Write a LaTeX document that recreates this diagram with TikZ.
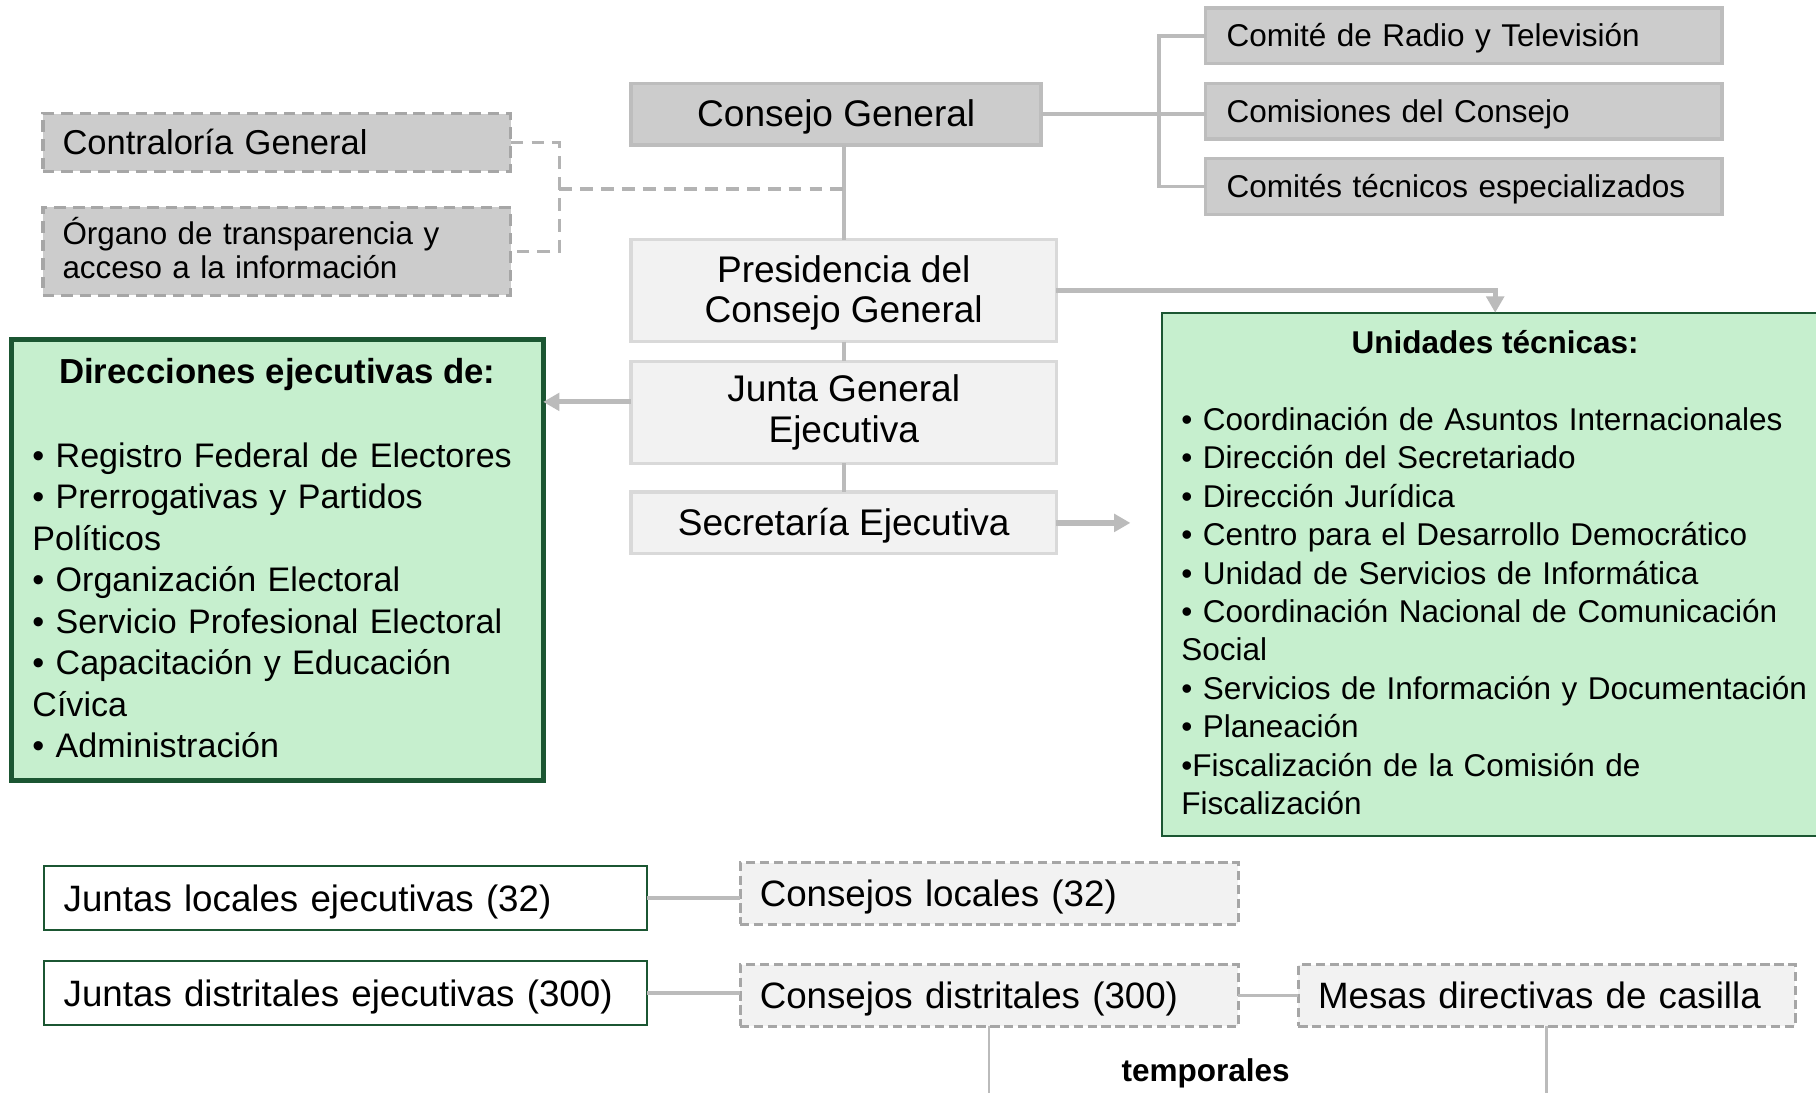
\documentclass[tikz,border=0pt]{standalone}
\usepackage{fontspec}
\setmainfont{Liberation Sans}
\usetikzlibrary{arrows.meta}
\definecolor{gdark}{HTML}{CCCCCC}
\definecolor{gdarkb}{HTML}{BDBDBD}
\definecolor{glight}{HTML}{F2F2F2}
\definecolor{glightb}{HTML}{D9D9D9}
\definecolor{gdash}{HTML}{A6A6A6}
\definecolor{gconn}{HTML}{BBBBBB}
\definecolor{gfill}{HTML}{C6EFCE}
\definecolor{gborder}{HTML}{1B5632}
\newcommand\fbig{\fontsize{32pt}{35pt}\selectfont}
\newcommand\fbot{\fontsize{31.7pt}{35pt}\selectfont}
\newcommand\fmid{\fontsize{29.4pt}{35.86pt}\selectfont}
\newcommand\fmidb{\fontsize{30pt}{35.86pt}\selectfont}
\newcommand\fsm{\fontsize{27.2pt}{33.2pt}\selectfont}
\newcommand\fcon{\fontsize{29.8pt}{30pt}\selectfont}
\newcommand\forg{\fontsize{27.1pt}{30pt}\selectfont}
\begin{document}
\begin{tikzpicture}[x=1pt,y=-1pt,
  every node/.style={inner sep=0pt, outer sep=0pt},
  boxbase/.style={rectangle, anchor=north west},
  darkbox/.style={boxbase, fill=gdark, draw=gdarkb, line width=3pt},
  lightbox/.style={boxbase, fill=glight, draw=glightb, line width=3pt},
  dashbox/.style={boxbase, fill=gdark, draw=gdash, line width=3pt, dash pattern=on 10pt off 6pt},
  dashlight/.style={boxbase, fill=glight, draw=gdash, line width=2.6pt, dash pattern=on 8pt off 4pt},
  greenbox/.style={boxbase, fill=gfill, draw=gborder, line width=4pt},
  greenthin/.style={boxbase, fill=gfill, draw=gborder, line width=1.8pt},
  whitebox/.style={boxbase, fill=white, draw=gborder, line width=1.8pt},
  lefttext/.style={align=left, inner xsep=#1, inner ysep=0pt},
  one32/.style={font=\fbig, text height=25.5pt, text depth=4pt},
  onebot/.style={font=\fbot, text height=25.5pt, text depth=3pt},
  one27/.style={font=\fsm, text height=22pt, text depth=3pt},
  one29/.style={font=\fcon, text height=23pt, text depth=2pt},
  conn/.style={draw=gconn, line width=3.2pt},
  dconn/.style={draw=gdash!85, line width=3pt, dash pattern=on 11pt off 7pt},
  arr/.style={draw=gconn, line width=4.5pt, -{Triangle[length=14pt,width=15pt]}},
  thinconn/.style={draw=gconn, line width=2.2pt}
]
\useasboundingbox (0,0) rectangle (1568,943);
\clip (0,0) rectangle (1568,943);
\fill[white] (0,0) rectangle (1568,943);

% top center column
\node[darkbox, minimum width=354pt, minimum height=53pt, one32] (cg) at (545,72) {Consejo General};
\node[lightbox, minimum width=367pt, minimum height=88pt, font=\fbig, align=center, text depth=3pt] (pres) at (545,207) {Presidencia del\\Consejo General};
\node[lightbox, minimum width=367pt, minimum height=88pt, font=\fbig, align=center] (jge) at (545,312) {Junta General\\Ejecutiva};
\node[lightbox, minimum width=367pt, minimum height=53pt, one32] (sec) at (545,425) {Secretaría Ejecutiva};

% top right committees
\node[darkbox, text width=410pt, minimum height=48pt, lefttext=18pt, one27] (crt) at (1041,7) {Comité de Radio y Televisión};
\node[darkbox, text width=410pt, minimum height=48pt, lefttext=18pt, one27] (com) at (1041,72) {Comisiones del Consejo};
\node[darkbox, text width=410pt, minimum height=48pt, lefttext=18pt, one27] (ctc) at (1041,137) {Comités técnicos especializados};

% top left dashed boxes
\node[dashbox, text width=370pt, minimum height=50pt, lefttext=17pt, one29] (ctr) at (37,98) {Contraloría General};
\node[dashbox, text width=370pt, minimum height=76pt, lefttext=17pt, font=\forg, text depth=36pt] (org) at (37,179) {Órgano de transparencia y\\acceso a la información};

% Direcciones ejecutivas
\node[greenbox, minimum width=459pt, minimum height=381pt] (dir) at (10,293) {};
\node[anchor=base, font=\fmidb\bfseries] (dirt) at (239.5,331) {Direcciones ejecutivas de:};
\node[anchor=north west, text width=440pt, align=left, font=\fmid] (dirl) at (28,373.4) {\rule{0pt}{30pt}• Registro Federal de Electores\\
• Prerrogativas y Partidos\\
Políticos\\
• Organización Electoral\\
• Servicio Profesional Electoral\\
• Capacitación y Educación\\
Cívica\\
• Administración};

% Unidades técnicas
\node[greenthin, minimum width=576pt, minimum height=452pt] (ut) at (1003,270) {};
\node[anchor=base, font=\fsm\bfseries] (utt) at (1291,305) {Unidades técnicas:};
\node[anchor=north west, text width=600pt, align=left, font=\fsm] (utl) at (1020,343.5) {\rule{0pt}{28pt}• Coordinación de Asuntos Internacionales\\
• Dirección del Secretariado\\
• Dirección Jurídica\\
• Centro para el Desarrollo Democrático\\
• Unidad de Servicios de Informática\\
• Coordinación Nacional de Comunicación\\
Social\\
• Servicios de Información y Documentación\\
• Planeación\\
•Fiscalización de la Comisión de\\
Fiscalización};

% bottom
\node[whitebox, text width=487pt, minimum height=55pt, lefttext=17pt, onebot] (jle) at (38,748) {Juntas locales ejecutivas (32)};
\node[dashlight, text width=396pt, minimum height=53pt, lefttext=17pt, onebot] (cl) at (639,745) {Consejos locales (32)};
\node[whitebox, text width=487pt, minimum height=55pt, lefttext=17pt, onebot] (jde) at (38,830) {Juntas distritales ejecutivas (300)};
\node[dashlight, text width=396pt, minimum height=53pt, lefttext=17pt, onebot] (cd) at (639,833) {Consejos distritales (300)};
\node[dashlight, text width=395pt, minimum height=53pt, lefttext=17pt, onebot] (mdc) at (1121,833) {Mesas directivas de casilla};
\node[anchor=base, font=\fsm\bfseries] (tmp) at (1041,934) {temporales};

% connectors
\draw[conn] (pres.north |- cg.south) -- (pres.north);
\draw[conn] (pres.south) -- (jge.north);
\draw[conn] (jge.south) -- (sec.north);

\coordinate (tk) at (1001,0);
\draw[conn] (cg.east) -- (cg.east -| com.west);
\draw[conn] (crt.west) -- (crt.west -| tk) -- (ctc.west -| tk) -- (ctc.west);

\coordinate (dv) at (483,163);
\draw[dconn] (ctr.east) -| (dv) |- (org.east);
\draw[dconn] (dv) -- (dv -| pres.north);

\draw[arr] (pres.east) -| (ut.north);
\draw[arr] ([yshift=9pt]jge.west) -- ([yshift=9pt]jge.west -| dir.east);
\coordinate (secend) at (976,451.5);
\draw[arr] (sec.east) -- (secend);

\draw[conn] (jle.east) -- (jle.east -| cl.west);
\draw[conn] (jde.east) -- (jde.east -| cd.west);
\draw[conn] (cd.east) -- (mdc.west);
\coordinate (cdend) at (854,960);
\coordinate (mdend) at (1335.5,960);
\draw[thinconn] (cd.south) -- (cdend);
\draw[thinconn] (mdc.south) -- (mdend);
\end{tikzpicture}
\end{document}
